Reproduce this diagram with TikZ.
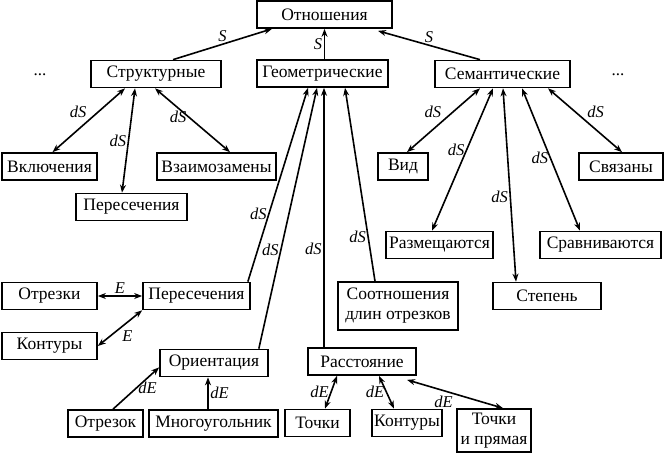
\documentclass[tikz,border=0pt]{standalone}
\usepackage{fontspec}
\setmainfont{Liberation Serif}
\newfontfamily\tnr{Liberation Serif}
\usetikzlibrary{arrows.meta}
\begin{document}
\begin{tikzpicture}[x=1pt,y=-1pt,
 box/.style={draw,line width=1.7pt,inner sep=0pt,minimum height=27pt,font=\tnr\fontsize{17.5}{20}\selectfont,align=center},
 tipa/.tip={Stealth[length=8pt,width=6pt]},
 con/.style={line width=1.6pt,-tipa},
 dcon/.style={line width=1.6pt,tipa-tipa},
 lbl/.style={font=\tnr\fontsize{16.5}{16.5}\selectfont\itshape,inner sep=1.5pt},
 dots/.style={font=\tnr\fontsize{17}{18}\selectfont,inner sep=0pt}]
\useasboundingbox (0,0) rectangle (666,453);
% nodes
\node[box,minimum width=135pt] (otn) at (324.5,14.5) {Отношения};
\node[box,minimum width=130pt] (str) at (156,74) {Структурные};
\node[box,minimum width=131pt] (geo) at (322.5,73.5) {Геометрические};
\node[box,minimum width=135pt] (sem) at (502.5,74) {Семантические};
\node[dots] (dl) at (40,75) {...};
\node[dots] (dr) at (618,75) {...};
\node[box,minimum width=95pt] (vkl) at (49.5,166.5) {Включения};
\node[box,minimum width=111pt] (per1) at (131.5,207) {Пересечения};
\node[box,minimum width=119pt] (vza) at (216.5,166.5) {Взаимозамены};
\node[box,minimum width=50pt] (vid) at (403,166.5) {Вид};
\node[box,minimum width=84pt] (svy) at (621,166.5) {Связаны};
\node[box,minimum width=107pt] (raz) at (439.5,245) {Размещаются};
\node[box,minimum width=121pt] (srv) at (600.5,245) {Сравниваются};
\node[box,minimum width=108pt] (ste) at (547,296) {Степень};
\node[box,minimum width=120pt,minimum height=48pt] (soo) at (398,306) {Соотношения\\длин отрезков};
\node[box,minimum width=95pt] (otr) at (49.5,296) {Отрезки};
\node[box,minimum width=107pt] (per2) at (196.5,296) {Пересечения};
\node[box,minimum width=95pt] (kon1) at (49.5,346) {Контуры};
\node[box,minimum width=108pt] (ori) at (214,363) {Ориентация};
\node[box,minimum width=75pt] (otz) at (105.5,423.5) {Отрезок};
\node[box,minimum width=129pt] (mng) at (213.5,423.5) {Многоугольник};
\node[box,minimum width=65pt] (toc) at (317.5,423) {Точки};
\node[box,minimum width=108pt] (ras) at (362,361.5) {Расстояние};
\node[box,minimum width=70pt] (kon2) at (407,423) {Контуры};
\node[box,minimum width=74pt,minimum height=43pt] (tip) at (494,430.5) {Точки\\и прямая};
% top level
\draw[con] ([xshift=17pt]str.north) -- node[lbl,above]{S} ([xshift=-52.5pt]otn.south);
\draw[con] (geo.north -| otn.south) -- node[lbl,left]{S} (otn.south);
\draw[con] ([xshift=-22.5pt]sem.north) -- node[lbl,above]{S} ([xshift=53.5pt,yshift=-2pt]otn.south);
% structural
\draw[dcon] ([xshift=-31pt]str.south) -- node[lbl,above left]{dS} ([xshift=3pt]vkl.north);
\draw[dcon] ([xshift=-21pt]str.south) -- node[lbl,left]{dS} ([xshift=-9.5pt]per1.north);
\draw[dcon] ([xshift=-1pt]str.south) -- node[lbl,left,pos=0.45]{dS} ([xshift=13.5pt]vza.north);
% geometric
\draw[con] ([xshift=-3pt]per2.north east) -- node[lbl,left,pos=0.35]{dS} ([xshift=-14.5pt]geo.south);
\draw[con] ([xshift=-10pt]ori.north east) -- node[lbl,left,pos=0.38]{dS} ([xshift=-5.5pt]geo.south);
\draw[con] ([xshift=-38pt]ras.north) -- node[lbl,left,pos=0.38]{dS} ([xshift=1.5pt]geo.south);
\draw[con] ([xshift=-23pt]soo.north) -- node[lbl,left,pos=0.23]{dS} ([xshift=22.5pt]geo.south);
% semantic
\draw[dcon] ([xshift=-22.5pt]sem.south) -- node[lbl,above left]{dS} ([xshift=4pt]vid.north);
\draw[dcon] ([xshift=-9.5pt]sem.south) -- node[lbl,left,pos=0.43]{dS} ([xshift=-7.5pt]raz.north);
\draw[dcon] ([xshift=0.5pt]sem.south) -- node[lbl,left,pos=0.56]{dS} ([xshift=-31pt]ste.north);
\draw[dcon] ([xshift=19.5pt]sem.south) -- node[lbl,left,pos=0.49]{dS} ([xshift=-20.5pt]srv.north);
\draw[dcon] ([xshift=45.5pt]sem.south) -- node[lbl,above right]{dS} ([xshift=1pt]svy.north);
% lower left
\draw[dcon] (otr.east) -- node[lbl,above]{E} (per2.west);
\draw[dcon] (kon1.east) -- node[lbl,below right]{E} (per2.south west);
\draw[con] ([xshift=7.5pt]otz.north) -- node[lbl,right]{dE} ([yshift=10pt]ori.south west);
\draw[con] ([xshift=-5.5pt]mng.north) -- node[lbl,right]{dE} ([xshift=-6pt]ori.south);
% distance
\draw[dcon] ([xshift=-25pt]ras.south) -- node[lbl,left]{dE} ([xshift=7.5pt]toc.north);
\draw[dcon] ([xshift=17pt]ras.south) -- node[lbl,left]{dE} ([xshift=-13pt]kon2.north);
\draw[dcon] ([xshift=45pt,yshift=-4pt]ras.south) -- node[lbl,below left]{dE} ([xshift=9pt]tip.north);
\end{tikzpicture}
\end{document}
